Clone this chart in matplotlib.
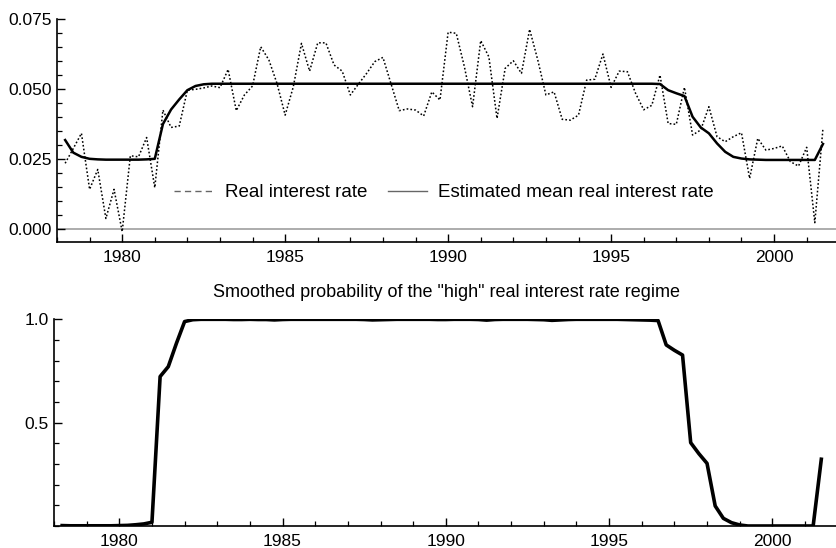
import numpy as np
import matplotlib
matplotlib.use("Agg")
import matplotlib.pyplot as plt
from matplotlib.lines import Line2D
from matplotlib.ticker import MultipleLocator

plt.rcParams['font.family'] = ['Liberation Sans', 'DejaVu Sans']

# ---- data (quarterly, first obs 1978Q2 plotted at 1978.25) ----
start_year = 1978.25
real_rate = [
    0.0236, 0.0289, 0.0343,
    0.0143, 0.0214, 0.0039, 0.0143,
    -0.0008, 0.0263, 0.0259, 0.0328,
    0.0149, 0.0426, 0.0364, 0.0369,
    0.0497, 0.0500, 0.0505, 0.0512,
    0.0506, 0.0571, 0.0424, 0.0480,
    0.0512, 0.0652, 0.0605, 0.0521,
    0.0408, 0.0509, 0.0664, 0.0565,
    0.0666, 0.0666, 0.0587, 0.0565,
    0.0480, 0.0519, 0.0557, 0.0599,
    0.0614, 0.0519, 0.0424, 0.0430,
    0.0426, 0.0405, 0.0491, 0.0462,
    0.0704, 0.0700, 0.0580, 0.0438,
    0.0674, 0.0616, 0.0396, 0.0575,
    0.0602, 0.0557, 0.0714, 0.0605,
    0.0480, 0.0491, 0.0393, 0.0390,
    0.0408, 0.0533, 0.0536, 0.0626,
    0.0507, 0.0565, 0.0563, 0.0486,
    0.0427, 0.0443, 0.0551, 0.0378,
    0.0375, 0.0507, 0.0337, 0.0355,
    0.0438, 0.0331, 0.0313, 0.0331,
    0.0345, 0.0182, 0.0325, 0.0283,
    0.0289, 0.0298, 0.0242, 0.0226,
    0.0293, 0.0024, 0.0361,
]
mean_rate = [
    0.0319, 0.0274, 0.0259,
    0.0252, 0.0250, 0.0249, 0.0249,
    0.0249, 0.0249, 0.0249, 0.0250,
    0.0252, 0.0376, 0.0428, 0.0464,
    0.0497, 0.0512, 0.0518, 0.0520,
    0.0520, 0.0520, 0.0520, 0.0520,
    0.0520, 0.0520, 0.0520, 0.0520,
    0.0520, 0.0520, 0.0520, 0.0520,
    0.0520, 0.0520, 0.0520, 0.0520,
    0.0520, 0.0520, 0.0520, 0.0520,
    0.0520, 0.0520, 0.0520, 0.0520,
    0.0520, 0.0520, 0.0520, 0.0520,
    0.0520, 0.0520, 0.0520, 0.0520,
    0.0520, 0.0520, 0.0520, 0.0520,
    0.0520, 0.0520, 0.0520, 0.0520,
    0.0520, 0.0520, 0.0520, 0.0520,
    0.0520, 0.0520, 0.0520, 0.0520,
    0.0520, 0.0520, 0.0520, 0.0520,
    0.0520, 0.0520, 0.0519, 0.0497,
    0.0486, 0.0476, 0.0402, 0.0364,
    0.0343, 0.0307, 0.0277, 0.0259,
    0.0253, 0.0250, 0.0249, 0.0248,
    0.0248, 0.0248, 0.0248, 0.0248,
    0.0248, 0.0248, 0.0305,
]
prob_high = [
    0.002, 0.001, 0.001,
    0.001, 0.001, 0.001, 0.001,
    0.002, 0.003, 0.006, 0.010,
    0.018, 0.723, 0.771, 0.884,
    0.989, 0.998, 1.000, 1.000,
    1.000, 1.000, 0.999, 0.999,
    1.000, 0.999, 0.999, 0.997,
    0.999, 1.000, 1.000, 1.000,
    1.000, 1.000, 1.000, 1.000,
    1.000, 1.000, 0.999, 0.997,
    0.998, 0.999, 1.000, 1.000,
    1.000, 1.000, 1.000, 0.999,
    0.999, 1.000, 1.000, 1.000,
    0.999, 0.996, 0.999, 1.000,
    1.000, 1.000, 1.000, 0.999,
    0.998, 0.995, 0.997, 0.999,
    1.000, 1.000, 1.000, 1.000,
    1.000, 1.000, 0.999, 0.998,
    0.997, 0.996, 0.994, 0.876,
    0.850, 0.827, 0.403, 0.350,
    0.303, 0.097, 0.037, 0.016,
    0.005, 0.000, 0.000, 0.000,
    0.000, 0.000, 0.000, 0.000,
    0.000, 0.000, 0.323,
]
dates = start_year + 0.25 * np.arange(len(real_rate))

bottom_title = 'Smoothed probability of the "high" real interest rate regime'
legend_labels = ['Real interest rate', 'Estimated mean real interest rate']

W, H = 836, 548
fig = plt.figure(figsize=(W / 100, H / 100), dpi=100)

ax1 = fig.add_axes([57 / W, 1 - 242.3 / H, (W - 57) / W, (242.3 - 19.3) / H])
ax2 = fig.add_axes([54 / W, 1 - 526 / H, (W - 54) / W, (526 - 319.3) / H])

# ---- top panel ----
ax1.axhline(0.0, color='#a6a6a6', lw=1.3, zorder=1)
ax1.plot(dates, real_rate, color='black', lw=1.1, ls=(0, (1.1, 1.4)), zorder=2)
ax1.plot(dates, mean_rate, color='black', lw=1.8, zorder=3)
ax1.set_xlim(1978.0, 2001.9)
ax1.set_ylim(-0.0046, 0.075)
ax1.yaxis.set_minor_locator(MultipleLocator(0.005))
ax1.set_yticks([0.0, 0.025, 0.05, 0.075])
ax1.set_yticklabels(['0.000', '0.025', '0.050', '0.075'])

handles = [Line2D([], [], color='#666666', lw=1.0, ls=(0, (4.5, 3))),
           Line2D([], [], color='#666666', lw=1.0)]
ax1.legend(handles, legend_labels, loc='center', bbox_to_anchor=(0.497, 0.222),
           ncol=2, frameon=False, fontsize=13.5, handlelength=2.1,
           handletextpad=0.6, columnspacing=1.1)

# ---- bottom panel ----
ax2.plot(dates, prob_high, color='black', lw=2.6, solid_joinstyle='round', zorder=3)
ax2.set_xlim(1978.0, 2001.95)
ax2.set_ylim(0.0, 1.0)
ax2.set_yticks([0.5, 1.0])
ax2.set_yticklabels(['0.5', '1.0'])
ax2.yaxis.set_minor_locator(MultipleLocator(0.1))
ax2.set_title(bottom_title, fontsize=13.0, pad=16, x=0.502)

for ax in (ax1, ax2):
    ax.xaxis.set_major_locator(MultipleLocator(5))
    ax.xaxis.set_minor_locator(MultipleLocator(1))
    for s in ('top', 'right'):
        ax.spines[s].set_visible(False)
    for s in ('left', 'bottom'):
        ax.spines[s].set_linewidth(1.2)
        ax.spines[s].set_color('black')
    ax.tick_params(which='major', direction='in', length=6, width=1.0,
                   labelsize=12.5, pad=4)
    ax.tick_params(which='minor', direction='in', length=3.5, width=0.9)
    ax.tick_params(axis='x', which='major', pad=5.5)

fig.savefig('out.png', dpi=100)
